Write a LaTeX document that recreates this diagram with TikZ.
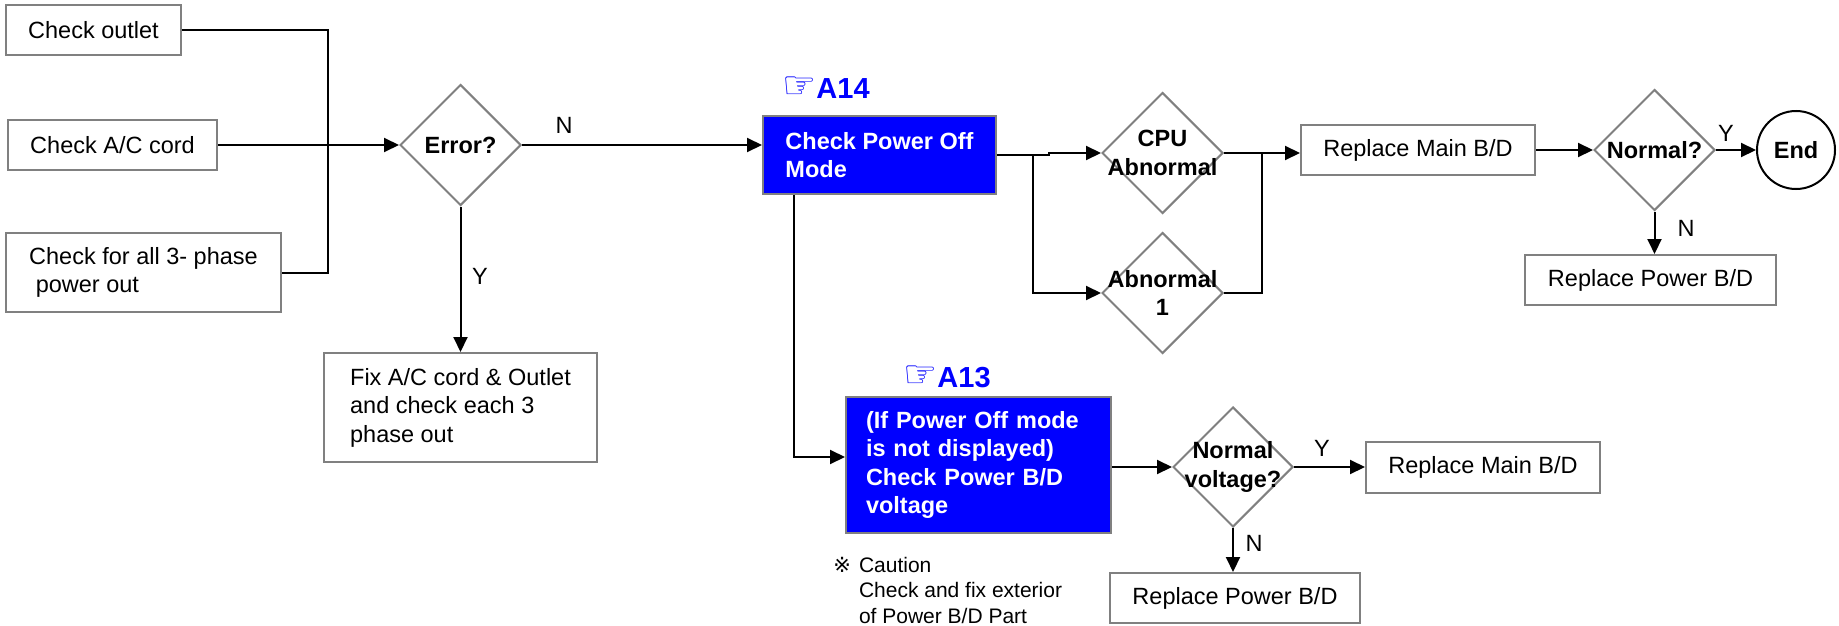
\documentclass[tikz,border=0pt]{standalone}
\usepackage{fontspec}
\setmainfont{Liberation Sans}
\newfontfamily\symfont{DejaVu Sans}
\usetikzlibrary{arrows.meta,positioning,shapes.geometric}

\begin{document}
\begin{tikzpicture}[x=1pt,y=-1pt,line width=2pt,
    every node/.style={font=\fontsize{23.5}{28.5}\selectfont},
    box/.style={draw=gray,rectangle,inner sep=0pt,minimum height=50,align=left},
    bluebox/.style={box,fill=blue,text=white,font=\fontsize{23.5}{28.5}\selectfont\bfseries},
    decision/.style={draw=gray,diamond,inner sep=0pt,minimum width=121,minimum height=121},
    dlabel/.style={align=center,font=\fontsize{23.5}{28.5}\selectfont\bfseries},
    ref/.style={text=blue,font=\fontsize{29}{29}\selectfont\bfseries},
    arr/.style={-{Triangle[length=15pt,width=14pt]}}]
\useasboundingbox (0,0) rectangle (1839,626);

    \node[box,minimum width=175] (outlet) at (93.5,30.5) {Check outlet};
    \node[box,minimum width=209] (cord) at (112.5,145) {Check A/C cord};
    \node[box,minimum width=275,minimum height=79] (phase) at (143.5,272.5)
        {Check for all 3- phase\\\hspace*{0.28em}power out};
    \node[decision,label={[dlabel]center:Error?}] (err) at (460.5,145) {};
    \node[box,minimum width=273,minimum height=109] (fix) at (460.5,407.5)
        {Fix A/C cord \& Outlet\\and check each 3\\phase out};

    \node[ref] (a14) at (826,88) {{\symfont\fontsize{38}{38}\selectfont ☞}A14};
    \node[bluebox,minimum width=233,minimum height=78] (pom) at (879.5,155)
        {Check Power Off\\Mode};
    \node[decision,label={[dlabel]center:{CPU\\Abnormal}}] (cpu) at (1162.5,153) {};
    \node[decision,label={[dlabel]center:{Abnormal\\1}}] (ab1) at (1162.5,293) {};
    \node[box,minimum width=234] (rmain1) at (1418,150) {Replace Main B/D};
    \node[decision,label={[dlabel]center:Normal?}] (norm) at (1654.5,150) {};
    \node[draw,circle,inner sep=0pt,minimum size=78,
        font=\fontsize{23.5}{28.5}\selectfont\bfseries] (end) at (1796,150) {End};
    \node[box,minimum width=251] (rpow1) at (1650.5,280) {Replace Power B/D};

    \node[ref] (a13) at (947,377) {{\symfont\fontsize{38}{38}\selectfont ☞}A13};
    \node[bluebox,minimum width=265,minimum height=136,text width=225] (chkv) at (978.5,465)
        {(If Power Off mode\\is not displayed)\\Check Power B/D\\voltage};
    \node[decision,minimum width=120,minimum height=120,
        label={[dlabel]center:{Normal\\voltage?}}] (nv) at (1233,467) {};
    \node[box,minimum width=234,minimum height=51] (rmain2) at (1483,467.5) {Replace Main B/D};
    \node[box,minimum width=250] (rpow2) at (1235,598) {Replace Power B/D};
    \node[anchor=north west,inner sep=0pt,align=left,font=\fontsize{21}{25.5}\selectfont]
        (caution) at (858,556)
        {\llap{\symfont ※\hspace{8pt}}Caution\\Check and fix exterior\\of Power B/D Part};

    \node (n1) at (564,125) {N};
    \node (y1) at (480,276) {Y};
    \node (y2) at (1726,133) {Y};
    \node (n2) at (1686,228) {N};
    \node (y3) at (1322,448) {Y};
    \node (n3) at (1254,543) {N};

    \coordinate (bus) at (328,145);
    \coordinate (jog) at (1049,155);
    \coordinate (split) at (1033,155);
    \coordinate (merge) at (1262,153);
    \coordinate (drop) at (794,457);

    \draw (outlet.east) -| (bus);
    \draw (phase.east) -| (bus);
    \draw[arr] (cord.east) -- (err.west);
    \draw[arr] (err.east) -- (err.east -| pom.west);
    \draw[arr] (err.south) -- (fix.north);
    \draw[arr] (pom.east) -- (jog) |- (cpu.west);
    \draw[arr] (split) |- (ab1.west);
    \draw (cpu.east) -- (merge);
    \draw (ab1.east) -| (merge);
    \draw[arr] (merge) -- (merge -| rmain1.west);
    \draw[arr] (rmain1.east) -- (norm.west);
    \draw[arr] (norm.east) -- (end.west);
    \draw[arr] (norm.south) -- (norm.south |- rpow1.north);
    \draw[arr] (pom.south -| drop) -- (drop) -- (drop -| chkv.west);
    \draw[arr] (chkv.east |- nv.west) -- (nv.west);
    \draw[arr] (nv.east) -- (nv.east -| rmain2.west);
    \draw[arr] (nv.south) -- (nv.south |- rpow2.north);
\end{tikzpicture}
\end{document}
